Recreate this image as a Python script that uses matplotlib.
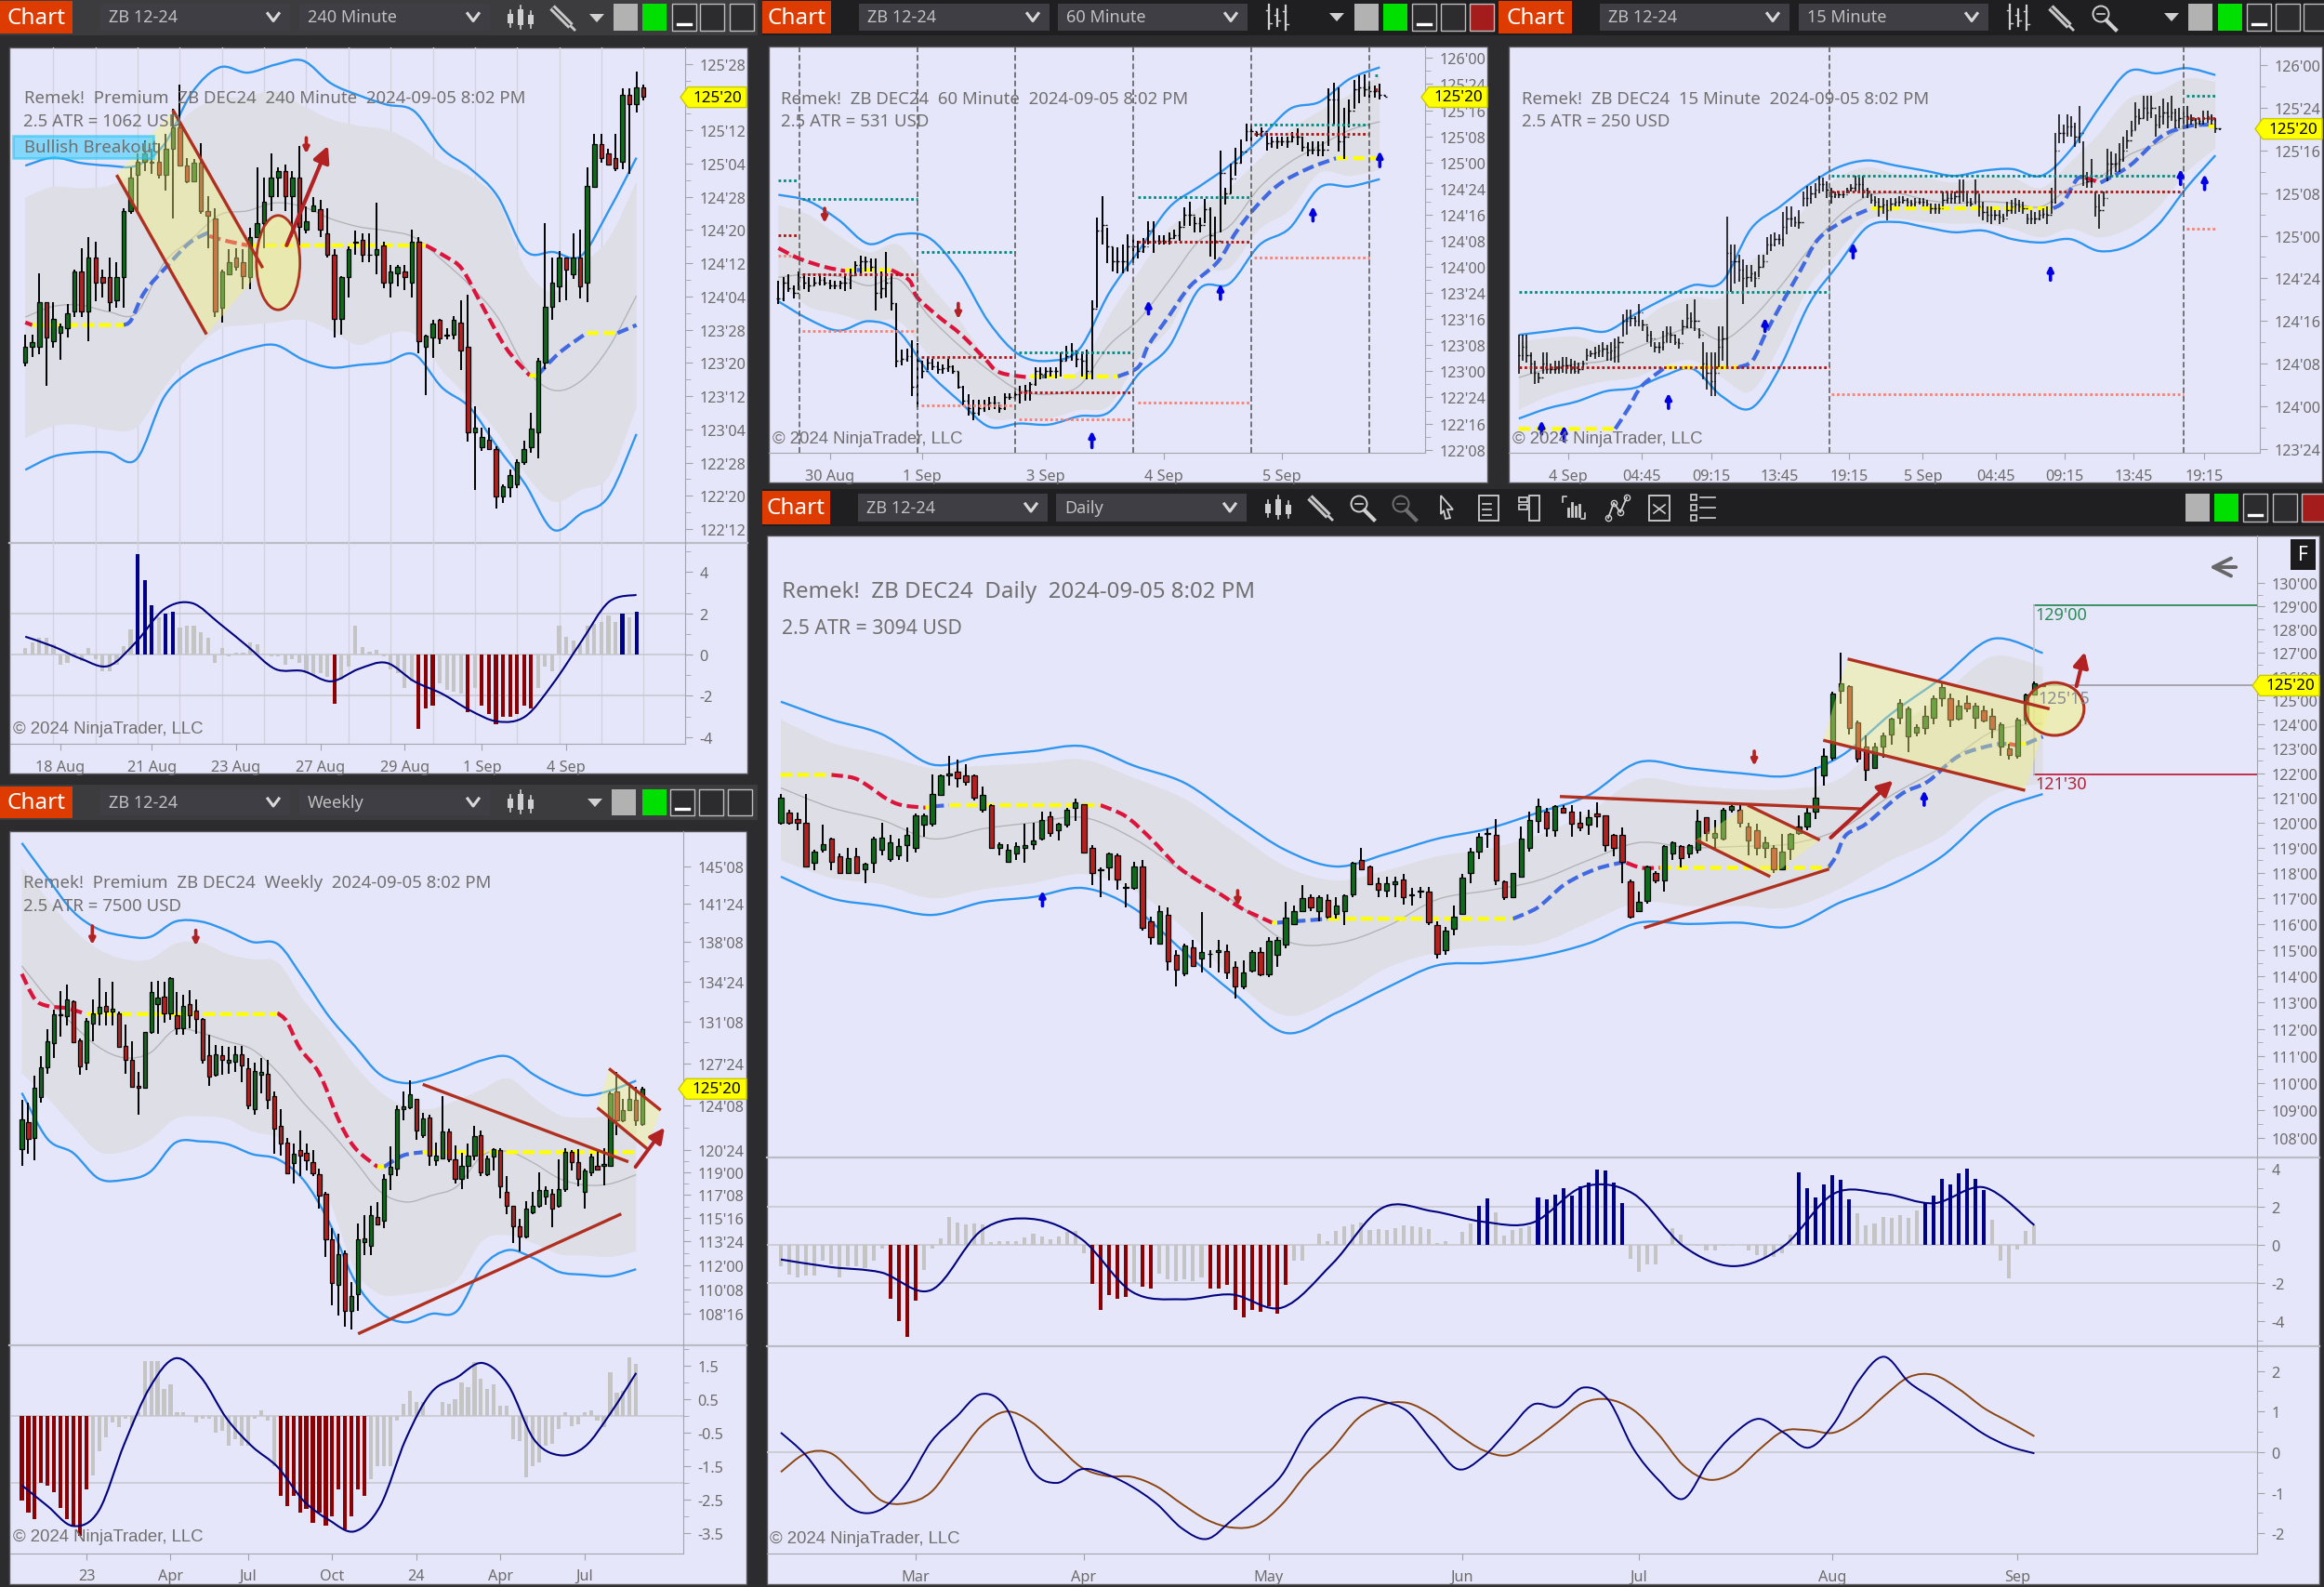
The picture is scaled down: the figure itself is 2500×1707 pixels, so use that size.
import numpy as np
import matplotlib
matplotlib.use('Agg')
import matplotlib.pyplot as plt
import matplotlib.ticker
from matplotlib.patches import Rectangle, Polygon, Ellipse, Circle, PathPatch
from matplotlib.path import Path
from matplotlib.transforms import IdentityTransform

W, H = 2500, 1708

# --- 240 minute chart: open, close, high, low ---
H240_BARS = [
    (123.63,123.75,123.84,123.6),(123.75,123.78,123.84,123.67),(123.75,124.08,124.3,123.69),(124.08,123.82,124.08,123.45),
    (123.79,123.96,124.08,123.74),(123.85,123.9,123.92,123.65),(123.89,124.0,124.07,123.82),(124.01,124.31,124.33,123.97),
    (124.31,124.01,124.49,123.97),(124.01,124.42,124.57,123.79),(124.42,124.23,124.54,124.09),(124.27,124.23,124.33,124.12),
    (124.27,124.08,124.42,124.01),(124.1,124.27,124.38,124.04),(124.27,124.77,124.79,124.04),(124.77,125.02,125.1,124.75),
    (125.04,125.14,125.2,124.77),(125.14,125.2,125.3,125.07),(125.13,125.14,125.24,125.05),(125.14,125.04,125.28,125.01),
    (125.04,125.24,125.35,124.92),(125.24,125.4,125.54,124.71),(125.4,125.11,125.72,125.11),(125.11,124.99,125.17,124.98),
    (124.99,125.13,125.16,124.99),(125.13,124.77,125.28,124.75),(124.77,124.73,124.88,124.49),(124.71,124.01,124.79,123.97),
    (124.04,124.31,124.33,123.93),(124.29,124.38,124.48,124.29),(124.42,124.35,124.49,124.32),(124.38,124.28,124.48,124.18),
    (124.27,124.57,124.64,124.18),(124.57,124.68,125.1,124.57),(124.68,124.84,125.02,124.49),(124.88,125.02,125.2,124.77),
    (125.02,125.07,125.1,124.87),(125.07,124.88,125.12,124.77),(124.88,125.02,125.07,124.57),(125.02,124.65,125.26,124.51),
    (124.63,124.69,124.8,124.6),(124.77,124.81,124.87,124.76),(124.78,124.63,124.85,124.57),(124.6,124.44,124.79,124.42),
    (124.44,123.96,124.48,123.82),(123.96,124.27,124.28,123.84),(124.27,124.48,124.5,124.12),(124.53,124.54,124.62,124.44),
    (124.55,124.44,124.6,124.38),(124.44,124.44,124.6,124.38),(124.44,124.48,124.83,124.29),(124.51,124.23,124.54,124.19),
    (124.23,124.31,124.36,124.12),(124.3,124.35,124.36,124.2),(124.31,124.27,124.36,124.17),(124.23,124.54,124.63,124.12),
    (124.54,123.79,124.57,123.7),(123.75,123.83,123.84,123.38),(123.82,123.92,123.95,123.66),(123.95,123.81,123.96,123.77),
    (123.84,123.83,123.89,123.8),(123.84,123.95,123.98,123.8),(123.93,123.72,124.1,123.57),(123.75,123.1,124.14,123.03),
    (123.1,123.14,123.3,122.67),(122.99,123.07,123.14,122.96),(123.05,122.98,123.14,122.97),(122.98,122.62,123.0,122.53),
    (122.62,122.7,122.71,122.57),(122.69,122.78,122.82,122.61),(122.71,122.88,122.9,122.68),(122.88,122.98,123.04,122.86),
    (122.99,123.13,123.25,122.95),(123.1,123.64,123.66,122.91),(123.63,124.05,124.68,123.58),(124.05,124.23,124.42,123.95),
    (124.2,124.42,124.47,124.08),(124.42,124.33,124.42,124.1),(124.29,124.42,124.6,124.26),(124.42,124.2,124.63,124.11),
    (124.23,124.96,125.1,124.08),(124.95,125.27,125.35,124.94),(125.27,125.17,125.35,125.13),(125.2,125.12,125.24,125.11),
    (125.17,125.09,125.35,125.07),(125.14,125.64,125.69,125.08),(125.64,125.57,125.69,125.05),(125.57,125.7,125.82,125.51),
    (125.7,125.63,125.72,125.6),
]
H240_UPPER = [125.11,125.17,125.13,125.11,125.11,125.27,125.66,125.85,125.81,125.87,125.9,125.73,125.64,125.57,125.52,125.24,125.09,124.88,124.47,124.46,124.43,124.77,125.17]
H240_LOWER = [122.82,122.92,122.95,122.95,122.9,123.37,123.57,123.66,123.73,123.76,123.65,123.59,123.61,123.63,123.69,123.44,123.29,122.99,122.71,122.37,122.49,122.62,123.09]
H240_SHADE_UP = [124.87,124.95,124.94,124.96,125.07,125.28,125.52,125.61,125.63,125.67,125.56,125.46,125.41,125.38,125.28,125.13,125.03,124.85,124.34,124.16,124.36,124.56,124.99]
H240_SHADE_LO = [123.06,123.15,123.16,123.12,123.14,123.44,123.7,123.88,123.91,123.93,123.95,123.87,123.76,123.84,123.84,123.57,123.35,123.1,122.79,122.58,122.67,122.77,123.29]
H240_MID = [123.97,124.05,124.06,124.01,124.0,124.38,124.56,124.74,124.77,124.83,124.8,124.71,124.65,124.62,124.57,124.4,124.21,123.97,123.59,123.42,123.49,123.74,124.13]
H240_STOP_RED = [[(0,123.93),(1,123.91)],[(26.2,124.58),(28.9,124.54),(31.7,124.51)],[(57,124.51),(60,124.42),(62.2,124.33),(64.9,124.07),(68.4,123.74),(71.8,123.53)]]
H240_STOP_YELLOW = [[(1,123.91),(14,123.91)],[(31.7,124.51),(57,124.51)],[(71.8,123.53),(72.9,123.53)],[(79.9,123.85),(84.3,123.85)]]
H240_STOP_BLUE = [[(14,123.91),(15.1,123.95),(17,124.16),(20.3,124.36),(23.4,124.53),(26.2,124.61)],[(72.9,123.53),(76,123.7),(79.9,123.85)],[(84.3,123.85),(87,123.91)]]
H240_HIST = [.3,.6,.8,.8,.5,-.5,-.4,.1,-.3,.3,-.2,-.8,-.8,-.5,.4,1.2,4.9,3.6,2.4,1.8,2.0,2.1,1.3,1.4,1.4,1.1,.8,-.4,.3,-.1,.1,.1,.6,.5,.05,-.1,-.1,-.5,-.2,-.4,-.9,-1,-.9,-1.1,-2.4,-1.2,-.6,1.4,.35,.15,.25,-.1,-.7,-.9,-1.6,-1.3,-3.6,-2.6,-2.5,-1.4,-1.7,-1.8,-1.9,-2.8,-1.6,-2.5,-2.9,-3.4,-3,-3,-2.9,-2.5,-2.6,-1.6,-.6,-.8,1.4,.85,.7,.5,1.4,1.5,1.6,1.9,1.6,2.0,1.8,2.1]
H240_STATE = 'g'*16+'b'*3+'g'+'b'*2+'g'*22+'r'+'g'*11+'r'*3+'g'*4+'r'+'g'+'r'*8+'g'*12+'b'+'g'+'b'
H240_MACD = [.87,.4,-.2,-.55,.63,2.2,2.5,1.5,.4,-.7,-.8,-1.3,-.7,-.4,-1.3,-1.9,-2.7,-3.25,-3.0,-1.4,.6,2.55,2.9]
H240_XTICKS = [5,18,30,42,54,65,77]
H240_XLABELS = ['18 Aug','21 Aug','23 Aug','27 Aug','29 Aug','1 Sep','4 Sep']
H240_FLAG = [(21,125.53),(33.8,124.34),(25.8,123.84),(13,125.04)]
H240_TRENDS = [(21,125.53,33.8,124.34),(13,125.04,25.8,123.84)]

# --- 60 minute chart: high, low, close ---
H60_BARS = [
    (123.87,123.64,123.7),(123.9,123.67,123.85),(123.93,123.76,123.8),(123.82,123.7,123.75),(123.96,123.78,123.9),(123.94,123.79,123.85),
    (123.9,123.76,123.82),(123.9,123.82,123.85),(123.92,123.82,123.88),(123.9,123.82,123.85),(123.88,123.79,123.82),(123.87,123.79,123.82),
    (123.87,123.79,123.85),(123.91,123.77,123.85),(123.98,123.79,123.92),(124.05,123.92,124.02),(124.11,123.94,124.05),(124.1,123.96,124.05),
    (124.08,123.96,124.0),(124.08,123.58,123.75),(123.96,123.7,123.8),(124.14,123.71,123.85),(123.94,123.58,123.65),(123.65,123.04,123.1),
    (123.21,123.06,123.12),(123.22,123.09,123.15),(123.3,122.76,122.85),(123.27,122.66,123.1),(123.1,122.93,123.0),(123.13,123.01,123.08),
    (123.12,123.01,123.05),(123.09,122.98,123.02),(123.07,122.98,123.03),(123.12,122.99,123.05),(123.06,122.98,123.0),(122.99,122.83,122.85),
    (122.86,122.67,122.72),(122.78,122.58,122.65),(122.73,122.53,122.6),(122.73,122.58,122.65),(122.73,122.61,122.68),(122.75,122.63,122.7),
    (122.76,122.64,122.7),(122.68,122.6,122.65),(122.79,122.63,122.75),(122.79,122.73,122.75),(122.81,122.73,122.78),(122.86,122.69,122.8),
    (122.87,122.72,122.82),(122.9,122.72,122.88),(123.04,122.86,123.0),(123.04,122.92,122.98),(123.04,122.93,123.0),(123.04,122.95,123.0),
    (123.04,122.93,123.0),(123.18,122.95,123.1),(123.24,123.1,123.15),(123.27,123.1,123.2),(123.18,123.04,123.12),(123.19,122.95,123.1),
    (123.21,122.92,123.0),(123.68,122.92,123.6),(124.47,123.61,124.35),(124.68,124.21,124.4),(124.37,124.04,124.2),(124.19,123.96,124.05),
    (124.19,123.94,124.05),(124.21,123.94,124.05),(124.31,123.96,124.2),(124.3,124.04,124.2),(124.25,124.08,124.15),(124.28,124.13,124.2),
    (124.44,124.21,124.35),(124.44,124.13,124.25),(124.3,124.21,124.25),(124.3,124.21,124.25),(124.33,124.21,124.28),(124.36,124.27,124.3),
    (124.44,124.25,124.38),(124.57,124.39,124.5),(124.62,124.39,124.5),(124.48,124.33,124.42),(124.47,124.33,124.4),(124.65,124.42,124.55),
    (124.57,124.1,124.3),(124.48,124.07,124.25),(125.11,124.33,124.9),(124.76,124.6,124.7),(124.99,124.7,124.85),(125.14,124.87,125.0),
    (125.22,124.99,125.1),(125.37,125.2,125.3),(125.36,125.2,125.3),(125.29,125.25,125.27),(125.34,125.25,125.3),(125.28,125.11,125.18),
    (125.25,125.14,125.2),(125.25,125.13,125.2),(125.25,125.16,125.2),(125.25,125.14,125.2),(125.29,125.19,125.25),(125.33,125.17,125.25),
    (125.25,125.1,125.15),(125.19,125.06,125.12),(125.2,125.08,125.12),(125.2,125.06,125.12),(125.2,125.06,125.12),(125.71,125.16,125.6),
    (125.76,125.36,125.6),(125.72,125.1,125.2),(125.52,125.03,125.25),(125.6,125.34,125.5),(125.79,125.51,125.7),(125.83,125.57,125.72),
    (125.84,125.63,125.7),(125.77,125.62,125.68),(125.74,125.62,125.68),(125.75,125.6,125.65),(125.64,125.63,125.63),
]
H60_UPPER = [124.69,124.63,124.45,124.22,124.31,124.28,123.96,123.47,123.16,123.1,123.21,123.75,124.16,124.57,124.77,124.97,125.22,125.51,125.58,125.8,125.91]
H60_LOWER = [123.67,123.5,123.39,123.48,123.38,122.99,122.72,122.47,122.5,122.49,122.57,122.61,122.98,123.24,123.79,123.84,124.21,124.37,124.76,124.77,124.84]
H60_SHADE_UP = [124.59,124.5,124.3,124.14,124.21,123.84,123.5,123.1,122.95,122.92,123.01,123.53,123.96,124.37,124.57,124.76,125.03,125.31,125.49,125.65,125.83]
H60_SHADE_LO = [123.85,123.62,123.55,123.47,123.48,123.16,122.92,122.56,122.55,122.55,122.63,122.67,123.13,123.41,123.93,123.99,124.36,124.54,124.9,124.87,124.93]
H60_MID = [123.9,123.93,123.91,123.82,123.88,123.53,123.25,123.01,122.82,122.78,122.86,123.25,123.5,123.87,124.25,124.39,124.76,125.0,125.16,125.31,125.39]
H60_STOP_RED = [[(0,124.18),(4,124.08),(9,124.0),(13,123.96)],[(22,123.97),(25.5,123.87),(27,123.71),(31,123.53),(35.6,123.35),(40,123.13),(43,122.99),(49,122.94)]]
H60_STOP_YELLOW = [[(13,123.97),(22,123.97)],[(49,122.95),(66,122.95)],[(108.5,125.04),(117,125.04)]]
H60_STOP_BLUE = [[(15,123.97),(16.5,123.97)],[(50,122.95),(52,122.95)],[(66,122.95),(70,123.04),(72,123.25),(76,123.53),(80,123.81),(85.5,124.05),(89,124.33),(92.8,124.57),(97.4,124.79),(103,124.94),(108.5,125.04)]]
H60_TEAL = [(0,4,124.83),(4.6,27,124.65),(27.8,46,124.14),(46.7,69,123.18),(70,92,124.67),(92.6,115,125.36),(116,117,125.83)]
H60_DARKRED = [(0,4,124.3),(4.6,27,123.93),(27.8,46,123.14),(46.7,69,122.8),(70,92,124.24),(92.6,115,125.27),(116,117,125.7)]
H60_SALMON = [(0,2.4,124.11),(4.6,27,123.39),(27.8,46,122.67),(46.7,69,122.54),(70,92,122.7),(92.6,115,124.09)]
H60_SESSIONS = [4.15,27,46,69,92,115]
H60_UP_ARROWS = [(61,122.27,122.43),(72,123.55,123.68),(86,123.69,123.84),(104,124.44,124.58),(117,124.96,125.11)]
H60_DOWN_ARROWS = [(9,124.56,124.42),(35,123.65,123.5)]
H60_XTICKS = [10,28,52,75,98]
H60_XLABELS = ['30 Aug','1 Sep','3 Sep','4 Sep','5 Sep']

# --- 15 minute chart: high, low, close ---
H15_BARS = [
    (124.42,124.19,124.3),(124.42,124.27,124.35),(124.42,124.26,124.3),(124.32,124.19,124.25),(124.27,124.13,124.2),(124.2,124.14,124.17),
    (124.32,124.19,124.25),(124.32,124.19,124.22),(124.25,124.19,124.22),(124.27,124.19,124.22),(124.27,124.19,124.23),(124.29,124.2,124.24),
    (124.29,124.19,124.24),(124.28,124.19,124.22),(124.27,124.19,124.21),(124.26,124.19,124.22),(124.27,124.23,124.25),(124.34,124.27,124.3),
    (124.33,124.29,124.31),(124.35,124.28,124.32),(124.36,124.29,124.33),(124.38,124.29,124.34),(124.36,124.27,124.32),(124.38,124.27,124.33),
    (124.4,124.26,124.35),(124.41,124.26,124.38),(124.54,124.41,124.5),(124.57,124.42,124.5),(124.57,124.47,124.52),(124.53,124.47,124.5),
    (124.6,124.47,124.55),(124.51,124.44,124.48),(124.47,124.38,124.42),(124.44,124.35,124.4),(124.38,124.32,124.35),(124.38,124.31,124.35),
    (124.44,124.33,124.38),(124.47,124.38,124.43),(124.47,124.37,124.42),(124.42,124.36,124.38),(124.4,124.34,124.37),(124.51,124.42,124.47),
    (124.6,124.46,124.52),(124.55,124.46,124.5),(124.63,124.44,124.5),(124.46,124.4,124.42),(124.38,124.16,124.25),(124.32,124.1,124.2),
    (124.32,124.06,124.15),(124.32,124.06,124.2),(124.47,124.23,124.35),(124.47,124.27,124.4),(125.11,124.23,124.9),(124.95,124.67,124.85),
    (124.95,124.72,124.85),(124.89,124.73,124.8),(124.86,124.6,124.75),(124.83,124.7,124.76),(124.83,124.73,124.78),(124.79,124.7,124.75),
    (124.89,124.76,124.82),(124.89,124.82,124.85),(124.99,124.89,124.95),(125.01,124.91,124.95),(125.02,124.94,124.98),(125.01,124.95,124.98),
    (125.14,124.94,125.05),(125.17,125.01,125.1),(125.17,125.05,125.1),(125.11,125.05,125.08),(125.15,125.04,125.08),(125.26,125.17,125.22),
    (125.29,125.17,125.22),(125.29,125.19,125.25),(125.31,125.22,125.27),(125.35,125.25,125.3),(125.34,125.26,125.3),(125.32,125.22,125.27),
    (125.28,125.19,125.23),(125.26,125.22,125.24),(125.26,125.22,125.24),(125.26,125.22,125.24),(125.28,125.25,125.27),(125.3,125.26,125.28),
    (125.35,125.26,125.3),(125.34,125.26,125.3),(125.35,125.22,125.27),(125.28,125.22,125.25),(125.24,125.19,125.21),(125.23,125.17,125.2),
    (125.22,125.11,125.17),(125.22,125.13,125.18),(125.21,125.09,125.15),(125.22,125.15,125.19),(125.22,125.17,125.2),(125.23,125.17,125.2),
    (125.23,125.19,125.21),(125.22,125.17,125.2),(125.21,125.17,125.19),(125.22,125.17,125.2),(125.22,125.18,125.2),(125.22,125.17,125.2),
    (125.21,125.17,125.19),(125.19,125.13,125.16),(125.19,125.13,125.16),(125.19,125.13,125.16),(125.26,125.17,125.21),(125.26,125.19,125.22),
    (125.25,125.19,125.22),(125.26,125.19,125.23),(125.33,125.19,125.26),(125.33,125.2,125.26),(125.26,125.17,125.2),(125.22,125.17,125.19),
    (125.33,125.19,125.25),(125.24,125.11,125.17),(125.2,125.09,125.14),(125.17,125.08,125.12),(125.17,125.07,125.12),(125.15,125.09,125.12),
    (125.15,125.07,125.11),(125.13,125.08,125.1),(125.2,125.11,125.15),(125.21,125.13,125.17),(125.22,125.13,125.18),(125.21,125.14,125.17),
    (125.2,125.13,125.16),(125.13,125.07,125.1),(125.15,125.07,125.1),(125.14,125.07,125.1),(125.15,125.09,125.12),(125.16,125.1,125.13),
    (125.17,125.07,125.12),(125.28,125.13,125.2),(125.6,125.19,125.5),(125.71,125.54,125.6),(125.65,125.54,125.6),(125.71,125.58,125.64),
    (125.7,125.58,125.64),(125.66,125.52,125.58),(125.76,125.54,125.6),(125.55,125.29,125.35),(125.37,125.28,125.32),(125.45,125.28,125.35),
    (125.26,125.11,125.17),(125.24,125.04,125.15),(125.26,125.17,125.22),(125.51,125.32,125.42),(125.49,125.34,125.42),(125.48,125.37,125.42),
    (125.54,125.37,125.45),(125.58,125.43,125.5),(125.62,125.51,125.56),(125.67,125.58,125.62),(125.78,125.62,125.7),(125.74,125.65,125.69),
    (125.82,125.69,125.75),(125.82,125.67,125.72),(125.82,125.69,125.75),(125.71,125.58,125.65),(125.76,125.63,125.7),(125.8,125.65,125.72),
    (125.78,125.63,125.7),(125.82,125.67,125.72),(125.74,125.63,125.68),(125.75,125.63,125.69),(125.76,125.65,125.7),(125.76,125.63,125.7),
    (125.71,125.65,125.68),(125.69,125.63,125.66),(125.69,125.65,125.67),(125.73,125.65,125.69),(125.73,125.66,125.7),(125.71,125.65,125.68),
    (125.69,125.6,125.63),(125.63,125.62,125.63),
]
H15_UPPER = [124.42,124.44,124.46,124.44,124.54,124.63,124.71,124.73,125.04,125.17,125.3,125.4,125.44,125.41,125.38,125.35,125.38,125.39,125.35,125.5,125.75,125.96,125.95,125.98,125.94]
H15_LOWER = [123.93,123.99,124.03,124.09,124.11,124.18,124.22,124.06,123.99,124.23,124.6,124.83,125.05,125.08,125.05,125.02,125.03,124.98,124.96,124.98,124.91,124.94,125.06,125.28,125.47]
H15_SHADE_UP = [124.38,124.4,124.41,124.37,124.47,124.59,124.64,124.64,124.85,124.96,125.19,125.34,125.4,125.36,125.34,125.31,125.34,125.34,125.28,125.43,125.6,125.8,125.84,125.92,125.9]
H15_SHADE_LO = [123.98,124.06,124.11,124.15,124.17,124.24,124.27,124.17,124.09,124.36,124.7,124.9,125.09,125.1,125.08,125.07,125.07,125.04,124.99,125.04,124.99,125.04,125.16,125.37,125.51]
H15_MID = [124.17,124.22,124.25,124.27,124.34,124.41,124.46,124.39,124.51,124.7,124.92,125.11,125.23,125.25,125.21,125.19,125.2,125.19,125.17,125.28,125.34,125.47,125.54,125.64,125.65]
H15_STOP_RED = [[(141.4,125.34),(145.3,125.31)]]
H15_STOP_YELLOW = [[(0,123.87),(24.1,123.87)],[(36.6,124.23),(54.8,124.23)],[(88,125.16),(133.5,125.16)],[(172.3,125.64),(174,125.64)]]
H15_STOP_BLUE = [[(24.1,123.87),(27.4,123.99),(30.7,124.12),(36.6,124.23)],[(54.8,124.23),(58.4,124.27),(61.7,124.43),(65.6,124.6),(70.2,124.79),(74.8,124.98),(81.4,125.09),(88,125.16)],[(133.5,125.16),(136.1,125.2),(139.4,125.33),(141.4,125.34)],[(145.3,125.31),(152.6,125.41),(160.5,125.58),(167.1,125.64),(172.3,125.65)]]
H15_TEAL = [(0,77.7,124.67),(78.1,164.4,125.35),(166.8,174.3,125.82)]
H15_DARKRED = [(0,77.7,124.23),(78.1,166.1,125.26),(166.8,174.3,125.69)]
H15_SALMON = [(78.1,166.1,124.07),(166.8,174.3,125.04)]
H15_SESSIONS = [77.7,166.1]
H15_UP_ARROWS = [(5.7,123.84,123.92),(11.3,123.8,123.89),(37.4,123.99,124.08),(61.5,124.44,124.52),(83.5,124.87,124.96),(132.8,124.74,124.83),(165.3,125.3,125.39),(171.3,125.27,125.36)]
H15_XTICKS = [12.3,30.7,48,65.2,82.5,100.9,119.2,136.4,153.6,171.1]
H15_XLABELS = ['4 Sep','04:45','09:15','13:45','19:15','5 Sep','04:45','09:15','13:45','19:15']

# --- weekly chart: open, close, high, low ---
WK_BARS = [
    (120.83,123.15,124.7,119.5),(122.95,121.6,124.5,120.4),(121.7,125.7,126.7,119.9),(124.95,127.4,128.3,124.5),(127.4,129.6,130.6,126.9),
    (129.4,131.9,132.3,128.2),(131.8,131.85,133.9,130),(131.7,133.2,134.5,130.9),(133,129.5,133.1,129.5),(129.7,127.5,129.8,126.8),
    (127.8,131.3,131.6,127.2),(131.1,132,133.2,129.6),(132,132.5,135,130.9),(132.6,132.1,133.8,130.9),(132.1,132.4,134.7,130.9),
    (132,129.1,132.1,129),(129.2,128,131,126.9),(128,125.8,129.6,125.7),(125.9,125.75,127,123.5),(125.75,130.4,130.4,125.7),
    (130.4,133.8,134.7,130.2),(132.8,133.3,134.8,130.2),(133.4,132,134.7,131.2),(132,135,135.1,131.4),(131.8,130.7,133.8,130.1),
    (130.7,132.6,133.6,130.1),(132.8,131.8,134,130.7),(132.2,131.5,133.2,130.2),(131.5,128,131.6,127.7),(128.4,126.6,130.1,125.9),
    (126.8,128.5,129.3,126.6),(128.4,128,129.2,126.8),(127.8,128,129.1,126.9),(127.9,128.5,129.2,127),(128.5,127.6,129.2,126.2),
    (127.3,124.3,128.2,123.95),(123.95,127.1,127.8,123.5),(126.8,127,128.2,125.3),(126.9,124.7,128,123.95),(125,122.4,125.4,120.4),
    (122.6,121.2,123.95,120.3),(121.3,118.9,121.7,118.9),(119.7,120.4,121.2,118.1),(120.7,120.3,122.3,118.7),(120.5,119.9,121.2,119.1),
    (119.8,118.9,120.7,118.7),(118.8,117.2,119.3,116.2),(117.3,113.9,117.5,112.6),(113.9,110.7,114.7,109.1),(110.6,112.8,114.3,108.4),
    (112.9,108.7,113.1,107.6),(108.7,109.8,110.8,107.4),(109.9,113.9,115.1,108.7),(113.7,114,115.7,112.7),(113.4,115.7,116.4,112.7),
    (115.6,115,116.7,115),(115.3,118.5,118.8,114.7),(118.8,119.4,121,117.6),(119.3,124,124.3,118.7),(124,124.2,125.4,123.1),
    (124.15,125.2,126.3,124),(124.8,122.3,124.8,121.5),(121.9,123.2,123.7,121.7),(123.3,120.3,123.5,119.5),(119.9,120.3,121.3,119.5),
    (120.1,122.2,125,120),(122.2,120,122.4,119.8),(120,118.5,121.1,118.1),(118.5,119.5,120.5,117.7),(119.5,120.3,121.2,118.5),
    (120.3,121.8,122.6,119.9),(121.9,119,122.3,118.7),(118.8,120.1,120.3,118.7),(120.2,120.8,120.9,119.1),(120.7,117.9,120.9,117),
    (117.5,116.4,118.7,115.8),(116.4,114.9,116.4,113.6),(114.9,114.1,115.4,113),(114.1,116.2,116.8,114),(115.9,116.4,117.5,115.8),
    (116.4,117.6,119,116.3),(117.1,117.6,117.9,116.5),(117.3,116.2,117.7,114.8),(116.4,117.7,120,116.3),(117.7,120.6,120.9,117.5),
    (120.6,119.8,120.7,119.1),(119.8,118.5,120.8,117.9),(117.5,119.1,119.3,116.2),(119,120.2,120.4,118.7),(119.5,119.2,120.7,119.1),
    (119.5,119.6,120.9,118),(119.5,125.3,125.4,119.5),(125.4,123.1,127,121.9),(123.1,123.9,124.8,122.9),(123.9,124.8,125.8,123.8),
    (124.7,123.1,125.8,122.6),(122.8,125.65,125.8,122.6),
]
WK_UPPER = [147.45,144.14,141.03,139.4,138.8,138.7,140.1,140.1,139.3,138.25,138.05,135.0,131.7,129.2,126.8,126.1,126.5,127.2,128,128.3,126.8,125.7,125.1,125.5,126.3]
WK_LOWER = [125.3,121.6,120.5,118.5,118.4,119,121.3,121.4,121.2,120.4,120,118.4,115.2,110.9,108.6,107.9,108.5,108.7,111.9,113.1,112.5,111.5,111.3,111.2,111.7]
WK_SHADE_UP = [145.1,142.2,139.4,137.6,136.7,136.7,138.1,138.2,137.2,136.7,136.4,133.1,130.5,127.6,125.4,124.2,124,124.7,125.6,126.5,124.9,123.5,123.3,123.5,124.2]
WK_SHADE_LO = [126.9,124.9,122.6,120.6,120.6,121.5,123.2,123.4,123.2,122.2,121.7,120.2,116.9,111.7,109.9,109.9,110.2,110.9,113.8,114.2,113.6,112.8,112.7,112.6,113]
WK_MID = [136.1,133.3,131,129.1,128.2,128.6,130.6,130.3,129.6,128.9,127,124.5,122.3,119.9,117.5,116.7,117.2,117.9,120.3,120.6,119.7,118.5,118,118.1,118.8]
WK_STOP_RED = [[(0,135.4),(2,133.2),(4,132.6),(7,132.4),(10,131.9)],[(39.5,132),(41,131.25),(43,129),(46,126.9),(49,123.1),(51.5,120.9),(55,119.4)]]
WK_STOP_YELLOW = [[(10,131.9),(39.5,131.9)],[(55,119.4),(56,119.4)],[(62,120.55),(95,120.55)]]
WK_STOP_BLUE = [[(56,119.4),(59,120.3),(62,120.55)]]
WK_HIST = [-2.55,-2.9,-3.1,-2.0,-2.1,-2.3,-2.75,-3.1,-3.3,-3.6,-2.2,-1.8,-1.05,-.65,-.2,-.35,-.1,-.3,.1,1.65,1.65,1.65,.8,.95,.1,.1,.0,-.2,-.1,-.1,-.5,-.45,-.9,-.7,-.9,-.9,-.1,.15,-.15,-1.5,-2.4,-2.7,-2.4,-2.9,-2.8,-3.2,-2.9,-3.3,-3.0,-2.2,-3.4,-3,-2.2,-2.4,-1.9,-1.5,-1.5,-1.5,-.15,.35,.75,.4,.4,0,0,.4,.35,.5,1.0,.85,1.6,1.1,.8,.95,.3,.3,-.7,-.75,-1.85,-1.5,-1.4,-.9,-.85,-.4,.1,-.3,-.25,.1,.15,-.15,-.35,1.3,.7,.75,1.75,1.55]
WK_STATE = 'r'*11+'g'*29+'r'*14+'g'*42
WK_MACD = [-2.08,-2.7,-3.3,-2.85,-.85,.85,1.72,1.15,-.08,-.92,-1.54,-2.54,-3.12,-3.46,-2.7,-.7,.7,1.15,1.58,.92,-.7,-1.18,-.92,.08,1.28]
WK_XTICKS = [10,23,35,48,61,74,87]
WK_XLABELS = ['23','Apr','Jul','Oct','24','Apr','Jul']
WK_YTICKS = [145.25,141.75,138.25,134.75,131.25,127.75,124.25,120.75,119,117.25,115.5,113.75,112,110.25,108.5]
WK_TRENDS = [(62,126,93.8,119.8),(52,107.1,92.7,115.8),(90.8,127.3,98.8,123.9),(89,124.1,97,120.7)]
WK_FLAG = [(90.8,127.3),(98.8,123.9),(96.6,120.8),(89,124.1)]

# --- daily chart: open, close, high, low ---
DAY_BARS = [
    (120,121,121.15,119.9),(120.4,120,120.5,119.9),(120.15,120,120.4,119.7),(120,118.25,121.15,118.25),(118.4,118.85,118.9,118.1),
    (118.9,119.15,119.9,118.8),(119.35,118.45,119.4,118.1),(118.65,118,118.75,118),(118,118.6,119,118),(118.65,118,119,118),
    (118.15,118.35,118.4,117.6),(118.4,119.35,119.45,118),(118.9,119.4,120,118.7),(118.55,119.2,119.5,118.45),(118.7,119.05,119.35,118.5),
    (119.1,119.5,119.8,118.45),(119,120.3,120.35,118.8),(119.9,120.3,120.35,119.45),(119.95,121.15,121.95,119.85),(121.1,121.9,121.95,121.1),
    (121.9,122,122.7,121.5),(122.05,121.8,122.55,121.4),(121.9,121.65,122.35,121.5),(121.9,121,121.95,120.9),(120.5,121.1,121.45,120.4),
    (120.7,119,120.75,119),(119,119.15,119.2,118.7),(118.45,118.9,119.15,118.4),(118.75,119.05,119.2,118.5),(119,119.1,119.95,118.4),
    (119.15,119.3,120,118.9),(119.35,120.1,120.45,119.3),(120.25,119.6,120.45,119.45),(119.7,119.95,120,119.3),(119.9,120.5,120.6,119.8),
    (120.6,120.8,120.95,120.05),(120.75,118.8,120.75,118.75),(119,118,119.1,117.5),(118.1,118.15,118.2,117.05),(118.2,118.75,118.8,117.7),
    (118.7,117.75,118.75,117.35),(117.45,117.4,117.6,116.65),(117.4,118.25,118.45,117.35),(118.25,115.85,118.5,115.75),(116.1,115.5,116.3,115.2),
    (115.25,116.5,116.7,115.2),(116.35,114.55,116.65,114.2),(114.8,114.25,115,113.6),(114.1,115.15,115.25,114),(115.1,114.4,115.4,114.35),
    (114.65,114.9,116.45,114.15),(114.85,114.85,115,114.3),(114.9,115,115.4,114.15),(114.95,114.15,115.2,113.9),(114.35,113.6,114.55,113.15),
    (113.6,114.15,114.6,113.5),(114.2,114.9,115,114.15),(114.9,114.05,115.1,114),(114.05,115.35,115.5,113.95),(114.8,115.4,115.5,114.35),
    (115.2,116.25,116.85,115.05),(116,116.5,116.7,115.95),(116.5,117,117.5,116.45),(117.05,116.65,117.15,116.5),(116.5,117.05,117.1,116.1),
    (116.95,116.3,117.15,116.2),(116.4,116.7,117.05,116.2),(116.5,117.1,117.15,115.95),(117.15,118.4,118.45,117.05),(118.5,118.15,119,118.1),
    (118.25,117.55,118.3,117.5),(117.6,117.35,117.8,117.05),(117.3,117.6,117.85,117.05),(117.55,117.65,117.85,117.05),(117.75,117.05,117.95,116.75),
    (117.15,117.1,117.4,116.7),(117.3,117.25,117.45,117),(117.25,116.05,117.45,115.95),(115.95,114.85,116.1,114.65),(115,115.75,115.9,114.8),
    (115.8,116.3,116.7,115.55),(116.4,117.8,117.95,116.35),(118,118.85,119,117.6),(118.85,119.45,119.6,118.55),(119.6,119.55,119.75,119),
    (119.5,117.7,120.15,117.5),(117.65,117.05,117.7,116.95),(117.05,118,118,117.05),(117.85,119.35,119.85,117.85),(119,120.1,120.45,118.85),
    (120.05,120.65,120.95,119.6),(120.45,119.75,120.6,119.45),(119.7,120.65,120.7,119.45),(120.6,120.4,120.7,120.35),(120.45,119.95,120.7,119.45),
    (120,119.8,120.45,119.65),(119.9,120.2,120.5,119.5),(120.35,120.25,120.8,119.8),(120.3,119.1,120.3,118.85),(119.5,119,119.55,118.65),
    (119.5,118.45,119.8,117.6),(117.65,116.3,117.75,116.2),(116.5,116.85,117.25,116.45),(116.9,118.25,118.3,116.8),(118,117.7,118.05,117.6),
    (117.7,119.05,119.1,117.25),(118.75,119.2,119.25,118.5),(119.05,118.6,119.1,118.2),(118.75,119.1,119.15,118.6),(118.9,120.05,120.5,118.75),
    (120.2,119.6,120.2,119.25),(119.4,119.6,120.1,118.95),(119.35,120.5,120.6,119.3),(120.5,120.65,120.8,120.4),(120.5,120,120.7,119.8),
    (119.85,119.3,120,118.7),(119.7,119,119.95,118.7),(119,119.2,119.45,118.6),(119,118.15,119.1,118),(118.15,118.85,119.55,118.1),
    (118.95,119.55,119.6,118.5),(119.6,119.85,120.3,119.5),(119.85,120.4,120.6,119.7),(120.45,121,122.25,120.15),(121.9,122.7,123,121.5),
    (122.65,125.3,125.35,122.5),(125.4,125.7,127,124.85),(125.6,123.85,125.65,123.6),(124.1,122.6,124.15,122.45),(123.1,122.15,123.55,121.7),
    (122.2,123.1,123.25,122.2),(123.1,123.55,123.65,122.65),(123.6,124.25,124.3,123.15),(124.3,124.9,125.05,124),(123.5,124.65,124.75,122.85),
    (123.65,123.9,124,123.5),(123.85,124.35,124.8,123.6),(124.3,125.1,125.2,124),(125.1,125.55,125.75,124.75),(125.1,124.2,125.3,123.9),
    (124.25,124.8,125,124.15),(124.9,124.65,125.2,124.5),(124.3,124.8,124.9,123.8),(124.6,124.15,124.8,124.1),(124.35,123.8,124.65,123.45),
    (123.1,124,124.1,122.7),(123,122.75,123.2,122.55),(122.7,124.2,124.3,122.6),(124.2,125.25,125.3,124),(125.25,125.7,125.8,125.2),
    (125.65,125.62,125.72,125.6),
]
DAY_UPPER = [124.95,124.2,123.6,122.35,122.7,122.9,123.1,122.3,121.6,120.2,118.9,118.25,118.75,119.35,119.75,120.4,121.1,122.45,122.2,122,121.9,122.7,124.45,125.95,127.6,127]
DAY_LOWER = [117.85,117,116.7,116.35,116.85,117.05,117.4,116.6,114.9,113.3,111.85,112.6,113.55,114.4,114.5,114.75,115.25,116.05,116,116.05,115.9,116.85,117.55,118.65,120.4,121.15]
DAY_SHADE_UP = [124.2,123.25,122.75,122.2,122.3,122.4,122.55,121.8,120.95,119.6,118.25,117.7,118.1,118.65,118.95,119.5,120.4,121.75,121.5,121.35,121.35,121.8,123.7,125.2,126.85,126.4]
DAY_SHADE_LO = [118.5,117.8,117.55,117,117.35,117.6,117.95,117.3,115.8,113.8,112.5,113.15,114.3,114.9,115.15,115.25,116.05,116.85,116.7,116.7,116.65,117.4,118.5,119.45,121.1,121.6]
DAY_MID = [121.4,120.6,120.1,119.35,119.75,120,120.2,119.35,118,116.85,115.35,115.25,115.9,116.95,117.3,117.7,118.5,119.2,119,119.05,119.15,119.75,121.1,122.25,123.7,124.05]
DAY_STOP_RED = [[(6,121.93),(8.7,121.8),(10.5,121.45),(12.6,120.95),(14.4,120.7),(17.2,120.6)],[(38,120.7),(41,120.25),(44,119.35),(47,118.3),(49.3,117.75),(52.3,117.15),(54.8,116.6),(58.4,116.05)],[(100.5,118.4),(102.3,118.2),(104.5,118.2)],[(146,123.2),(147.5,123.1)]]
DAY_STOP_YELLOW = [[(0,121.93),(6,121.93)],[(17.2,120.6),(18,120.65)],[(20,120.7),(38,120.7)],[(58.4,116.05),(59,116.05)],[(65,116.2),(87,116.2)],[(104.5,118.2),(124.5,118.2)],[(145.7,123.2),(146,123.2)],[(147,123.2),(148,123.2)]]
DAY_STOP_BLUE = [[(18,120.65),(20,120.7)],[(59,116.05),(65,116.2)],[(87,116.2),(90,116.65),(93.2,117.55),(96.9,118.15),(100.5,118.45)],[(124.5,118.2),(125.4,118.65),(126.6,119.5),(129,119.95),(133.2,121.15),(136.3,121.65),(140,122.7),(144,123.15),(145.7,123.2)],[(148,123.2),(150,123.5)]]
DAY_HIST = [-1.1,-1.55,-1.7,-1.6,-1.6,-.8,-1,-1.7,-1.1,-1.1,-1.2,-.8,-.2,-2.8,-4,-4.8,-2.9,-1.3,-.2,.35,1.5,1.2,1.1,1.15,1.1,.15,.2,.2,.2,.4,.6,.45,.3,.45,.7,.75,-.4,-2.05,-3.4,-2.6,-2.8,-2.7,-2,-2.2,-2.3,-1.5,-1.8,-1.9,-1.8,-1.9,-1.7,-2.3,-2.3,-2.1,-3.4,-3.8,-3.4,-3.5,-3.2,-3.6,-2.1,-.8,-.8,0,.6,.2,.75,1,1.1,1.2,.8,.85,.8,.9,1.05,1,.95,.85,.1,.2,0,.7,1.15,2.05,2.45,1.7,.5,.8,.9,1,2.5,2.4,2.65,3,2.6,3.1,3.3,3.95,3.9,3.3,2.2,-.7,-1.4,-1,-1,0,.9,.55,0,-.05,-.3,-.3,-.05,-.05,0,-.3,-.5,-.6,-.6,-.4,.55,3.8,3,2.5,3.2,3.65,3.45,2.4,1.65,1.05,1.15,1.5,1.45,1.6,1.45,1.8,2.2,2.6,3.5,3.2,3.75,4,3.5,2.9,1.35,-.8,-1.75,-.25,.75,1.05]
DAY_STATE = 'g'*13+'r'*4+'g'*20+'r'*5+'g'+'r'*2+'g'*6+'r'*10+'g'*22+'b'*2+'g'*5+'b'*11+'g'*20+'b'*7+'g'*8+'b'*8+'g'*6
DAY_MACD = [-.75,-1.15,-1.43,-2.35,.77,1.38,.31,-2.44,-2.84,-2.59,-3.27,-.97,1.96,1.78,1.23,1.19,3.06,2.7,-.05,-1.1,-.05,2.7,2.7,2.2,3.03,1.05]
DAY_OSC_FAST = [.48,-.08,-.89,-1.45,-1.41,-.77,.26,.87,1.43,1.08,-.42,-.76,-.42,-.55,-.85,-1.28,-1.88,-2.14,-1.67,-1.15,-.55,.52,1.08,1.34,1.25,1.0,.26,-.42,-.12,.52,1.17,1.12,1.59,1.29,.09,-.68,-1.15,-.25,.44,.82,.48,.11,.7,1.77,2.35,1.72,1.31,.87,.44,.14,-.03]
DAY_OSC_SLOW = [-.49,-.03,-.03,-.59,-1.19,-1.26,-.98,-.16,.65,1.0,.74,.18,-.38,-.59,-.61,-.85,-1.28,-1.67,-1.86,-1.79,-1.28,-.51,.09,.82,1.17,1.21,.91,.44,.05,-.08,.27,.74,1.21,1.3,1.04,.44,-.33,-.68,-.51,.05,.52,.54,.48,.82,1.38,1.85,1.9,1.55,1.08,.74,.39]
DAY_XTICKS = [16,36,58,81,102,125,147]
DAY_XLABELS = ['Mar','Apr','May','Jun','Jul','Aug','Sep']
DAY_YTICKS = [108,109,110,111,112,113,114,115,116,117,118,119,120,121,122,123,124,125,126,127,128,129,130]
DAY_TRENDS = [(92.6,121.05,128.4,120.55),(114.9,120.7,123.5,119.3),(108.8,119.3,117.6,117.85),(102.6,115.85,124.6,118.15),(126.8,126.75,150.8,124.65),(123.9,123.35,147.9,121.3)]
DAY_FLAGS = [[(114.9,120.7),(123.5,119.3),(117.6,117.85),(108.8,119.3)],[(126.8,126.75),(150.8,124.65),(147.9,121.3),(123.9,123.35)]]

LAST_PRICE = 125.625
TARGET_PRICE = 129.05
STOP_PRICE = 121.95

# --- colours ---
FRAME = '#2c2c2f'
LAVENDER = '#e6e6fa'
SHADE = '#dedee6'
GRID = '#d3d3de'
AXIS = '#a4a4ac'
TICK_TEXT = '#6c6c6c'
NOTE_TEXT = '#707070'
BAND = '#2f96f0'
MID = '#b4b4b8'
STOP_COLORS = {'red': '#dc143c', 'yellow': '#ffff00', 'blue': '#4169e1'}
UP = '#0f6b1c'
DOWN = '#b5211f'
TREND = '#b03020'
ARROW_RED = '#b22222'
HIST_COLORS = {'g': '#c4c4c4', 'b': '#00008b', 'r': '#8b0000'}
LEVEL_TEAL = '#008b80'
LEVEL_RED = '#b01010'
LEVEL_SALMON = '#fa8072'
CIRCLE_FILL = (0.95, 0.95, 0.48, 0.5)

plt.rcParams['font.family'] = ['Noto Sans', 'DejaVu Sans']

fig = plt.figure(figsize=(W / 100, H / 100), dpi=100, facecolor=FRAME)
bg = fig.add_axes([0, 0, 1, 1], zorder=-1)
bg.set_xlim(0, W)
bg.set_ylim(H, 0)
bg.axis('off')


def price_label(p):
    whole = int(p)
    return f"{whole}'{round((p - whole) * 32):02d}"


def make_axes(left, top, right, bottom, x0, dx):
    ax = fig.add_axes([left / W, 1 - bottom / H, (right - left) / W, (bottom - top) / H])
    ax.patch.set_visible(False)
    ax.set_xlim((left - x0) / dx, (right - x0) / dx)
    for name, spine in ax.spines.items():
        spine.set_visible(name == 'right')
        spine.set_color(AXIS)
    ax.tick_params(axis='y', which='both', left=False, right=True, labelleft=False, labelright=True,
                   labelsize=11.7, labelcolor=TICK_TEXT, color=AXIS, length=6, pad=5)
    ax.tick_params(axis='y', which='minor', length=4)
    ax.tick_params(axis='x', which='both', bottom=False, labelbottom=False)
    return ax


def set_x_ticks(ax, ticks, labels):
    ax.spines['bottom'].set_visible(True)
    ax.spines['bottom'].set_color(AXIS)
    ax.set_xticks(ticks, labels)
    ax.tick_params(axis='x', which='major', bottom=True, labelbottom=True, labelsize=11.7,
                   labelcolor=TICK_TEXT, color=AXIS, length=5, pad=7)


def set_price_ticks(ax, ticks):
    ax.set_yticks(ticks, [price_label(t) for t in ticks])
    ax.set_yticks([(a + b) / 2 for a, b in zip(ticks[:-1], ticks[1:])], minor=True)
    ax.tick_params(axis='y', which='minor', labelright=False)


def spread(last, values):
    return np.linspace(0, last, len(values))


def curve_verts(xs, ys):
    # smooth bezier through the read values, no extra data points
    pts = np.column_stack([xs, ys]).astype(float)
    prev_pts = np.vstack([pts[0], pts[:-1]])
    next_pts = np.vstack([pts[1:], pts[-1]])
    next2_pts = np.vstack([pts[2:], pts[-1], pts[-1]]) if len(pts) > 1 else pts
    c1 = pts + (next_pts - prev_pts) / 6
    c2 = next_pts - (next2_pts - pts) / 6
    verts = [pts[0]]
    for i in range(len(pts) - 1):
        verts += [c1[i], c2[i], pts[i + 1]]
    return np.array(verts)


def draw_curve(ax, xs, ys, color, lw, zorder, ls='-'):
    verts = curve_verts(xs, ys)
    codes = [Path.MOVETO] + [Path.CURVE4] * (len(verts) - 1)
    ax.add_patch(PathPatch(Path(verts, codes), fc='none', ec=color, lw=lw, ls=ls, zorder=zorder, capstyle='butt'))


def draw_envelope(ax, last, upper, lower, shade_up, shade_lo, mid):
    top = curve_verts(spread(last, shade_up), shade_up)
    bot = curve_verts(spread(last, shade_lo), shade_lo)[::-1]
    verts = np.vstack([top, bot])
    codes = [Path.MOVETO] + [Path.CURVE4] * (len(top) - 1) + [Path.LINETO] + [Path.CURVE4] * (len(bot) - 1)
    ax.add_patch(PathPatch(Path(verts, codes), fc=SHADE, ec='none', lw=0, zorder=1))
    draw_curve(ax, spread(last, mid), mid, MID, 1, 2)
    draw_curve(ax, spread(last, upper), upper, BAND, 1.7, 3)
    draw_curve(ax, spread(last, lower), lower, BAND, 1.7, 3)


def draw_stops(ax, red, yellow, blue):
    for name, segments in (('blue', blue), ('red', red), ('yellow', yellow)):
        for seg in segments:
            xs, ys = zip(*seg)
            draw_curve(ax, xs, ys, STOP_COLORS[name], 3, 3.5, ls=(0, (3, 1.3)))


def draw_candles(ax, bars, width=0.6):
    opens, closes, highs, lows = map(np.array, zip(*bars))
    x = np.arange(len(bars))
    ax.vlines(x, lows, highs, color='black', lw=1.4, zorder=4)
    colors = [UP if c >= o else DOWN for o, c in zip(opens, closes)]
    ax.bar(x, closes - opens, bottom=opens, width=width, color=colors, edgecolor='black', lw=0.9, zorder=4.2)


def draw_sticks(ax, bars, lw=1.4, tick=0.35):
    highs, lows, closes = map(np.array, zip(*bars))
    x = np.arange(len(bars))
    ax.vlines(x, lows, highs, color='black', lw=lw, zorder=4)
    ax.hlines(closes, x, x + tick, color='black', lw=1, zorder=4)
    ax.hlines(np.r_[closes[0], closes[:-1]], x - tick, x, color='black', lw=1, zorder=4)


def draw_levels(ax, levels, color):
    for start, end, price in levels:
        ax.plot([start, end], [price, price], color=color, lw=2, ls=(0, (1, 1)), zorder=4.6)


def draw_arrow(ax, x0, y0, x1, y1, color, lw=2, scale=10):
    ax.annotate('', xy=(x1, y1), xytext=(x0, y0), annotation_clip=False, zorder=6,
                arrowprops=dict(arrowstyle='-|>', color=color, lw=lw, mutation_scale=scale, shrinkA=0, shrinkB=0))


def draw_small_arrows(ax, arrows, color):
    for x, tail, tip in arrows:
        draw_arrow(ax, x, tail, x, tip, color, lw=2.6, scale=9)


def draw_flag(ax, corners):
    ax.add_patch(Polygon(corners, closed=True, fc='#f2f27a', ec='none', alpha=0.42, zorder=5))


def draw_trends(ax, trends):
    for x0, p0, x1, p1 in trends:
        ax.plot([x0, x1], [p0, p1], color=TREND, lw=2.4, zorder=5.5, solid_capstyle='butt', clip_on=False)


def draw_histogram(ax, values, state, line_last, line, width=0.55):
    x = np.arange(len(values))
    colors = [HIST_COLORS[s] for s in state[:len(values)]]
    ax.bar(x[:len(colors)], values[:len(colors)], width=width, color=colors, lw=0, zorder=2)
    draw_curve(ax, spread(line_last, line), line, '#000080', 1.5, 3)


def grid_h(ax, values):
    for v in values:
        ax.axhline(v, color='#c9c9d2', lw=1.2, zorder=1)


def price_tag(ax, price, left, right):
    y = ax.transData.transform((0, price))[1]
    pts = [(left, y), (left + 8, y + 11), (right, y + 11), (right, y - 11), (left + 8, y - 11)]
    fig.add_artist(Polygon(pts, closed=True, fc='#ffff00', ec='#c9c900', lw=1, transform=IdentityTransform(), zorder=2))
    fig.text((left + 9 + right) / 2 / W, y / H, price_label(price), color='black', fontsize=12.3,
             ha='center', va='center', zorder=3)


def note(x, y, s, size=13.4, color=NOTE_TEXT, family=None):
    fig.text(x / W, 1 - y / H, s, fontsize=size, color=color, ha='left', va='center', zorder=3, family=family)


def chevron(x, y):
    bg.plot([x - 6, x, x + 6], [y - 4, y + 4, y - 4], color='#d8d8d8', lw=2.2)


def icon_bars(x, y):
    for dx_, top, bot in ((-11, -8, 10), (0, -13, 12), (11, -7, 11)):
        bg.plot([x + dx_, x + dx_], [y + top, y + bot], color='#d0d0d0', lw=1.2)
        bg.add_patch(Rectangle((x + dx_ - 3, y + top + 4), 6, bot - top - 8, fc='#d0d0d0', ec='none'))


def icon_sticks(x, y):
    for dx_, top, bot in ((-9, -14, 12), (0, -9, 9), (9, -13, 13)):
        bg.plot([x + dx_, x + dx_], [y + top, y + bot], color='#d0d0d0', lw=1.6)
        bg.plot([x + dx_ - 3, x + dx_], [y + top + 6, y + top + 6], color='#d0d0d0', lw=1)
        bg.plot([x + dx_, x + dx_ + 3], [y + bot - 6, y + bot - 6], color='#d0d0d0', lw=1)


def icon_pencil(x, y):
    bg.plot([x - 11, x + 9], [y - 11, y + 9], color='#c8c8c8', lw=5.5, solid_capstyle='butt')
    bg.plot([x - 10, x + 8], [y - 10, y + 8], color='#3a3a3c', lw=1.2)
    bg.plot([x + 9, x + 13], [y + 9, y + 13], color='#c8c8c8', lw=2)


def icon_zoom(x, y, color='#d0d0d0'):
    bg.add_patch(Circle((x - 3, y - 4), 8.5, fc='none', ec=color, lw=1.4))
    bg.plot([x + 3, x + 13], [y + 3, y + 13], color=color, lw=3)
    bg.plot([x - 7, x + 1], [y - 4, y - 4], color=color, lw=1.2)


def icon_box(x, y, kind):
    c = '#cfcfcf'
    if kind == 'cursor':
        bg.add_patch(Polygon([(x - 6, y - 13), (x + 7, y + 2), (x + 1, y + 2), (x + 4, y + 11), (x - 1, y + 12), (x - 3, y + 3), (x - 6, y + 7)],
                             closed=True, fc='none', ec=c, lw=1.3))
    elif kind == 'doc':
        bg.add_patch(Rectangle((x - 11, y - 13), 21, 27, fc='none', ec=c, lw=1.3))
        for off in (-4, 2, 8):
            bg.plot([x - 7, x + 2], [y + off, y + off], color=c, lw=1.2)
    elif kind == 'frame':
        bg.add_patch(Rectangle((x - 3, y - 13), 11, 27, fc='none', ec=c, lw=1.3))
        bg.add_patch(Rectangle((x - 14, y - 11), 9, 5, fc='none', ec=c, lw=1.2))
        bg.add_patch(Rectangle((x - 14, y - 3), 9, 5, fc='none', ec=c, lw=1.2))
    elif kind == 'hist':
        for off, h in ((-6, 8), (-2, 14), (2, 10), (6, 12)):
            bg.plot([x + off, x + off], [y + 9, y + 9 - h], color=c, lw=2)
        bg.plot([x - 12, x - 12, x - 8], [y - 6, y - 12, y - 12], color=c, lw=1.2)
        bg.plot([x + 12, x + 12, x + 8], [y + 6, y + 12, y + 12], color=c, lw=1.2)
    elif kind == 'nodes':
        bg.plot([x - 10, x - 4, x + 3, x + 10], [y + 11, y - 5, y + 5, y - 11], color=c, lw=1.3,
                marker='o', ms=4.5, mfc='none', mec=c)
    elif kind == 'strategy':
        bg.add_patch(Rectangle((x - 11, y - 13), 22, 27, fc='none', ec=c, lw=1.3))
        bg.plot([x - 6, x + 6], [y - 3, y + 6], color=c, lw=1.2)
        bg.plot([x - 6, x + 6], [y + 6, y - 3], color=c, lw=1.2)
    elif kind == 'list':
        for off in (-11, 0, 11):
            bg.add_patch(Rectangle((x - 13, y + off - 3), 6, 6, fc='none', ec=c, lw=1.2))
            bg.plot([x - 3, x + 13], [y + off, y + off], color=c, lw=1.2)


def toolbar(x_chart, chart_w, y0, y1, x_end, fill, drop1, drop2, period, x_btns, last_red, font=13):
    bg.add_patch(Rectangle((x_chart, y0 - 2), x_end - x_chart, y1 - y0 + 4, fc=fill, ec='none'))
    bg.add_patch(Rectangle((x_chart, y0), chart_w, y1 - y0, fc='#de3b00', ec='none'))
    bg.text(x_chart + chart_w / 2, (y0 + y1) / 2, 'Chart', color='white', fontsize=17.5, ha='center', va='center')
    yc = (y0 + y1) / 2
    for (a, b), label in ((drop1, 'ZB 12-24'), (drop2, period)):
        bg.add_patch(Rectangle((a, y0 + 3), b - a, y1 - y0 - 6, fc='#3e3e44', ec='none'))
        bg.text(a + 9, yc, label, color='#c0c0c0', fontsize=font, ha='left', va='center')
        chevron(b - 18, yc)
    for i, bx in enumerate(x_btns):
        if i == 0:
            color = '#b2b2b2'
        elif i == 1:
            color = '#00e000'
        elif i == 4 and last_red:
            color = '#a51c1c'
        else:
            color = '#2c2c2e'
        bg.add_patch(Rectangle((bx, y0 + 3), 26, y1 - y0 - 6, fc=color, ec='#bdbdbd' if i >= 2 else 'none', lw=1))
        if i == 2:
            bg.plot([bx + 6, bx + 20], [y1 - 10, y1 - 10], color='white', lw=2.4)


# --- chrome and panel backgrounds ---
for left, top, right, bottom in ((10, 52, 804, 833), (827, 51, 1600, 520), (1623, 51, 2498, 520),
                                 (10, 895, 803, 1705), (825, 577, 2495, 1705)):
    bg.add_patch(Rectangle((left, top), right - left, bottom - top, fc=LAVENDER, ec='#55555a', lw=1))

toolbar(0, 78, 2, 37, 815, '#3c3c3f', (108, 312), (322, 527), '240 Minute', [660, 691, 723, 753, 785], False)
toolbar(820, 74, 2, 37, 1612, '#1f1f21', (924, 1129), (1138, 1342), '60 Minute', [1457, 1488, 1519, 1550, 1581], True)
toolbar(1612, 79, 2, 37, 2500, '#1f1f21', (1721, 1925), (1935, 2139), '15 Minute', [2354, 2386, 2417, 2448, 2478], False)
toolbar(0, 78, 847, 881, 815, '#3c3c3f', (108, 312), (322, 527), 'Weekly', [658, 691, 721, 752, 783], False)
toolbar(820, 73, 529, 565, 2500, '#1f1f21', (923, 1127), (1136, 1341), 'Daily', [2351, 2382, 2413, 2445, 2476], True)

icon_bars(560, 20)
icon_pencil(605, 20)
bg.add_patch(Polygon([(634, 16), (650, 16), (642, 25)], fc='#d0d0d0'))
icon_sticks(1374, 20)
bg.add_patch(Polygon([(1430, 15), (1446, 15), (1438, 24)], fc='#d0d0d0'))
icon_sticks(2171, 20)
icon_pencil(2217, 20)
icon_zoom(2263, 20)
bg.add_patch(Polygon([(2328, 15), (2344, 15), (2336, 24)], fc='#d0d0d0'))
icon_bars(560, 864)
bg.add_patch(Polygon([(632, 860), (648, 860), (640, 869)], fc='#d0d0d0'))
icon_bars(1375, 547)
icon_pencil(1420, 547)
icon_zoom(1465, 547)
icon_zoom(1510, 547, '#707070')
icon_box(1556, 547, 'cursor')
icon_box(1602, 547, 'doc')
icon_box(1648, 547, 'frame')
icon_box(1693, 547, 'hist')
icon_box(1740, 547, 'nodes')
icon_box(1785, 547, 'strategy')
icon_box(1832, 547, 'list')

for x0_, x1_, y_ in ((10, 804, 585), (10, 803, 1448), (825, 2495, 1245.6), (825, 2495, 1449)):
    bg.plot([x0_, x1_], [y_, y_], color='#bcbcc6', lw=1.6)

# --- 240 minute ---
H240_LEFT, H240_RIGHT, H240_X0, H240_DX = 10.5, 737, 27.2, 7.557
ax = make_axes(H240_LEFT, 52, H240_RIGHT, 585, H240_X0, H240_DX)
ax.set_ylim(122.27, 126.0)
ax.set_autoscale_on(False)
set_price_ticks(ax, list(np.arange(122.375, 125.9, 0.25)))
for gx in np.arange(4, 90, 6):
    ax.axvline(gx, color=GRID, lw=1, zorder=0.5)
h240_last = 87
draw_envelope(ax, h240_last, H240_UPPER, H240_LOWER, H240_SHADE_UP, H240_SHADE_LO, H240_MID)
draw_stops(ax, H240_STOP_RED, H240_STOP_YELLOW, H240_STOP_BLUE)
draw_candles(ax, H240_BARS)
draw_flag(ax, H240_FLAG)
draw_trends(ax, H240_TRENDS)
ax.add_patch(Ellipse((36, 124.38), 6.2, 0.71, fc=CIRCLE_FILL, ec=TREND, lw=2, zorder=5.2))
draw_arrow(ax, 37.2, 124.51, 43.1, 125.26, ARROW_RED, lw=3, scale=26)
draw_small_arrows(ax, [(40, 125.32, 125.2)], ARROW_RED)
price_tag(ax, LAST_PRICE, 732, 803)
ind = make_axes(H240_LEFT, 585, H240_RIGHT, 801, H240_X0, H240_DX)
ind.set_ylim(-4.33, 5.42)
ind.set_autoscale_on(False)
ind.set_yticks([-4, -2, 0, 2, 4], ['-4', '-2', '0', '2', '4'])
ind.set_yticks([-3, -1, 1, 3, 5], minor=True)
grid_h(ind, [-2, 0, 2])
for gx in np.arange(4, 90, 6):
    ind.axvline(gx, color=GRID, lw=1, zorder=0.5)
draw_histogram(ind, H240_HIST, H240_STATE, h240_last, H240_MACD)
set_x_ticks(ind, H240_XTICKS, H240_XLABELS)
note(26, 106, 'Remek!  Premium  ZB DEC24  240 Minute  2024-09-05 8:02 PM')
note(25, 131, '2.5 ATR = 1062 USD')
note(14, 785, '\u00a9 2024 NinjaTrader, LLC', family='Liberation Sans')
fig.add_artist(Rectangle((14 / W, 1 - 171 / H), 151 / W, 24 / H, fc='#33ccff', ec='#22c4f4', alpha=0.55, lw=2, zorder=2))
note(26, 159, 'Bullish Breakout')

# --- 60 minute ---
H60_X0, H60_DX = 837.3, 5.53
ax = make_axes(827, 51, 1533, 488, H60_X0, H60_DX)
ax.set_ylim(122.22, 126.11)
ax.set_autoscale_on(False)
set_price_ticks(ax, list(np.arange(122.25, 126.05, 0.25)))
draw_envelope(ax, 117, H60_UPPER, H60_LOWER, H60_SHADE_UP, H60_SHADE_LO, H60_MID)
draw_stops(ax, H60_STOP_RED, H60_STOP_YELLOW, H60_STOP_BLUE)
draw_sticks(ax, H60_BARS)
draw_levels(ax, H60_TEAL, LEVEL_TEAL)
draw_levels(ax, H60_DARKRED, LEVEL_RED)
draw_levels(ax, H60_SALMON, LEVEL_SALMON)
for sx in H60_SESSIONS:
    ax.axvline(sx, color='#555555', lw=1.1, ls=(0, (4, 2)), zorder=4.8)
draw_small_arrows(ax, H60_UP_ARROWS, '#0000e0')
draw_small_arrows(ax, H60_DOWN_ARROWS, ARROW_RED)
set_x_ticks(ax, H60_XTICKS, H60_XLABELS)
price_tag(ax, LAST_PRICE, 1529, 1600)
note(840, 107, 'Remek!  ZB DEC24  60 Minute  2024-09-05 8:02 PM')
note(840, 131, '2.5 ATR = 531 USD')
note(831, 473, '\u00a9 2024 NinjaTrader, LLC', family='Liberation Sans')

# --- 15 minute ---
H15_X0, H15_DX = 1633.8, 4.307
ax = make_axes(1623, 51, 2431, 488, H15_X0, H15_DX)
ax.set_ylim(123.73, 126.107)
ax.set_autoscale_on(False)
set_price_ticks(ax, list(np.arange(123.75, 126.05, 0.25)))
draw_envelope(ax, 174, H15_UPPER, H15_LOWER, H15_SHADE_UP, H15_SHADE_LO, H15_MID)
draw_stops(ax, H15_STOP_RED, H15_STOP_YELLOW, H15_STOP_BLUE)
draw_sticks(ax, H15_BARS, lw=1.1, tick=0.3)
draw_levels(ax, H15_TEAL, LEVEL_TEAL)
draw_levels(ax, H15_DARKRED, LEVEL_RED)
draw_levels(ax, H15_SALMON, LEVEL_SALMON)
for sx in H15_SESSIONS:
    ax.axvline(sx, color='#555555', lw=1.1, ls=(0, (4, 2)), zorder=4.8)
draw_small_arrows(ax, H15_UP_ARROWS, '#0000e0')
set_x_ticks(ax, H15_XTICKS, H15_XLABELS)
price_tag(ax, LAST_PRICE, 2426, 2498)
note(1637, 107, 'Remek!  ZB DEC24  15 Minute  2024-09-05 8:02 PM')
note(1637, 131, '2.5 ATR = 250 USD')
note(1627, 473, '\u00a9 2024 NinjaTrader, LLC', family='Liberation Sans')

# --- weekly ---
WK_LEFT, WK_RIGHT, WK_X0, WK_DX = 10.5, 735, 23.5, 6.956
ax = make_axes(WK_LEFT, 895, WK_RIGHT, 1448, WK_X0, WK_DX)
ax.set_yscale('log')
ax.set_ylim(106.3, 148.6)
ax.set_autoscale_on(False)
set_price_ticks(ax, sorted(WK_YTICKS))
ax.yaxis.set_minor_formatter(matplotlib.ticker.NullFormatter())
draw_envelope(ax, 95, WK_UPPER, WK_LOWER, WK_SHADE_UP, WK_SHADE_LO, WK_MID)
draw_stops(ax, WK_STOP_RED, WK_STOP_YELLOW, WK_STOP_BLUE)
draw_candles(ax, WK_BARS)
draw_flag(ax, WK_FLAG)
draw_trends(ax, WK_TRENDS)
draw_arrow(ax, 94.9, 119.4, 99.4, 122.5, ARROW_RED, lw=2.8, scale=24)
draw_small_arrows(ax, [(10.9, 139.7, 138), (26.9, 139.3, 137.9)], ARROW_RED)
price_tag(ax, LAST_PRICE, 730, 803)
ind = make_axes(WK_LEFT, 1448, WK_RIGHT, 1671.5, WK_X0, WK_DX)
ind.set_ylim(-4.11, 2.11)
ind.set_autoscale_on(False)
ind.set_yticks([-3.5, -2.5, -1.5, -0.5, 0.5, 1.5], ['-3.5', '-2.5', '-1.5', '-0.5', '0.5', '1.5'])
ind.set_yticks([-3, -2, -1, 0, 1, 2], minor=True)
grid_h(ind, [-2, 0])
draw_histogram(ind, WK_HIST, WK_STATE, 95, WK_MACD, width=0.6)
set_x_ticks(ind, WK_XTICKS, WK_XLABELS)
note(25, 950, 'Remek!  Premium  ZB DEC24  Weekly  2024-09-05 8:02 PM')
note(25, 975, '2.5 ATR = 7500 USD')
note(14, 1654, '\u00a9 2024 NinjaTrader, LLC', family='Liberation Sans')

# --- daily ---
DAY_LEFT, DAY_RIGHT, DAY_X0, DAY_DX = 825, 2428, 840, 9.05
ax = make_axes(DAY_LEFT, 577, DAY_RIGHT, 1245.6, DAY_X0, DAY_DX)
ax.set_yscale('log')
ax.set_ylim(107.3, 132.09)
ax.set_autoscale_on(False)
set_price_ticks(ax, DAY_YTICKS)
ax.yaxis.set_minor_formatter(matplotlib.ticker.NullFormatter())
draw_envelope(ax, 150, DAY_UPPER, DAY_LOWER, DAY_SHADE_UP, DAY_SHADE_LO, DAY_MID)
draw_stops(ax, DAY_STOP_RED, DAY_STOP_YELLOW, DAY_STOP_BLUE)
draw_candles(ax, DAY_BARS)
for flag in DAY_FLAGS:
    draw_flag(ax, flag)
draw_trends(ax, DAY_TRENDS)
xlim_right = ax.get_xlim()[1]
ax.plot([149, xlim_right], [TARGET_PRICE, TARGET_PRICE], color='#2e8b57', lw=1.3, zorder=3)
ax.plot([149, xlim_right], [STOP_PRICE, STOP_PRICE], color='#c02040', lw=1.3, zorder=3)
ax.plot([149, xlim_right], [LAST_PRICE, LAST_PRICE], color='#9a9aa2', lw=1.2, zorder=3)
ax.plot([149, 149], [STOP_PRICE, TARGET_PRICE], color='#c0c0c8', lw=1.2, zorder=3)
ax.add_patch(Ellipse((151.4, 124.65), 7, 2.2, fc=CIRCLE_FILL, ec=TREND, lw=2.2, zorder=5.2))
draw_arrow(ax, 124.8, 119.4, 132.2, 121.7, ARROW_RED, lw=3, scale=24)
draw_arrow(ax, 154, 125.6, 155, 127.05, ARROW_RED, lw=3, scale=24)
draw_small_arrows(ax, [(115.7, 122.9, 122.3), (54.3, 117.3, 116.7)], ARROW_RED)
draw_small_arrows(ax, [(135.9, 120.7, 121.3), (31.1, 116.7, 117.3)], '#0000e0')
price_tag(ax, LAST_PRICE, 2423, 2495)
ind = make_axes(DAY_LEFT, 1245.6, DAY_RIGHT, 1449, DAY_X0, DAY_DX)
ind.set_ylim(-5.3, 4.62)
ind.set_autoscale_on(False)
ind.set_yticks([-4, -2, 0, 2, 4], ['-4', '-2', '0', '2', '4'])
ind.set_yticks([-5, -3, -1, 1, 3], minor=True)
grid_h(ind, [-2, 0, 2])
draw_histogram(ind, DAY_HIST, DAY_STATE, 149, DAY_MACD, width=0.45)
osc = make_axes(DAY_LEFT, 1449, DAY_RIGHT, 1672, DAY_X0, DAY_DX)
osc.set_ylim(-2.5, 2.61)
osc.set_autoscale_on(False)
osc.set_yticks([-2, -1, 0, 1, 2], ['-2', '-1', '0', '1', '2'])
osc.set_yticks([-1.5, -0.5, 0.5, 1.5, 2.5], minor=True)
grid_h(osc, [0])
draw_curve(osc, spread(149, DAY_OSC_SLOW), DAY_OSC_SLOW, '#8b4513', 1.4, 3)
draw_curve(osc, spread(149, DAY_OSC_FAST), DAY_OSC_FAST, '#000080', 1.4, 3)
set_x_ticks(osc, DAY_XTICKS, DAY_XLABELS)
note(841, 637, 'Remek!  ZB DEC24  Daily  2024-09-05 8:02 PM', size=17.3)
note(841, 676, '2.5 ATR = 3094 USD', size=15.3)
note(828, 1656, '\u00a9 2024 NinjaTrader, LLC', family='Liberation Sans')
note(2189, 662, "129'00", size=13, color='#2e8b57')
note(2189, 844, "121'30", size=13, color='#b22234')
note(2192, 752, "125'15", size=13, color='#8a8a92')
bg.add_patch(Rectangle((2464, 581), 27, 33, fc='#1c1c1e', ec='none', zorder=5))
bg.text(2477.5, 597.5, 'F', color='white', fontsize=15, ha='center', va='center', zorder=6)
bg.annotate('', xy=(2374, 611), xytext=(2408, 611), arrowprops=dict(arrowstyle='->', color='#666666', lw=2.8, mutation_scale=34))

fig.savefig('out.png', dpi=100, facecolor=fig.get_facecolor())
plt.close(fig)
